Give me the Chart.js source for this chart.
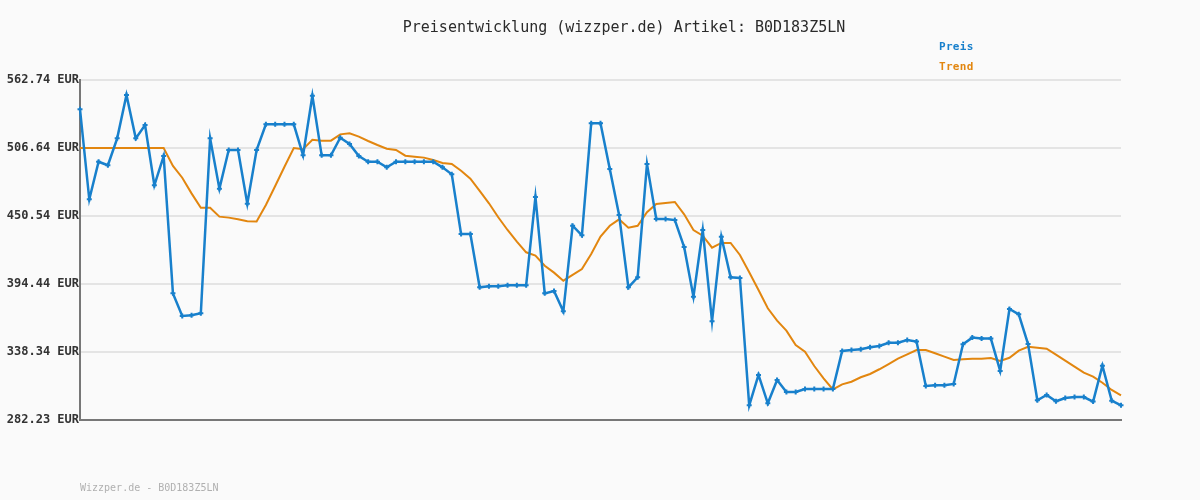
<script src="https://cdn.jsdelivr.net/npm/chart.js"></script>

<style>
  body { margin: 0; background: #fafafa; }
</style>

<div style="height:500px;width:1200px;">
  <canvas id="myChart" width="1200" height="500"></canvas>
</div>

<script>
const preis = [
  538.6, 464.3, 495.3, 492.4, 514.6, 550.4, 514.6, 525.6, 475.9, 500.0,
  386.7, 368.0, 368.6, 370.3, 514.6, 473.1, 505.0, 505.0, 460.7, 505.0,
  526.2, 526.2, 526.2, 526.2, 500.6, 549.8, 500.6, 500.6, 515.1, 509.9,
  500.0, 495.3, 495.3, 490.7, 495.3, 495.3, 495.3, 495.3, 495.3, 490.7,
  484.9, 435.7, 435.7, 391.7, 392.5, 392.5, 393.3, 393.3, 393.3, 466.2,
  386.7, 388.7, 371.9, 442.5, 434.6, 527.0, 527.0, 489.3, 451.4, 391.7,
  400.0, 493.4, 448.0, 448.0, 447.2, 424.9, 384.0, 439.0, 363.6, 433.5,
  400.0, 399.4, 294.3, 319.4, 296.0, 315.2, 305.3, 305.3, 307.8, 307.8,
  307.8, 307.8, 339.2, 340.0, 340.6, 342.2, 343.3, 346.0, 346.0, 348.2,
  346.9, 310.3, 310.9, 310.9, 312.0, 344.7, 350.2, 349.4, 349.4, 322.7,
  373.8, 369.4, 344.9, 298.5, 302.9, 297.7, 300.4, 301.2, 301.2, 297.4,
  327.0, 298.2, 294.3
];

const trend = [
  506.64, 506.64, 506.64, 506.64, 506.64, 506.64, 506.64, 506.64, 506.64, 506.64,
  491.8, 482.1, 469.2, 457.4, 457.4, 450.0, 449.2, 447.8, 446.2, 446.0,
  459.6, 475.3, 491.2, 506.6, 505.6, 513.5, 512.7, 512.7, 517.9, 518.7,
  516.0, 512.4, 509.1, 506.1, 505.0, 500.3, 499.5, 498.7, 496.7, 494.3,
  493.4, 487.9, 481.3, 471.2, 461.0, 449.5, 439.0, 429.4, 420.6, 417.8,
  409.5, 403.8, 397.2, 401.9, 406.8, 419.2, 433.5, 442.5, 447.8, 440.9,
  442.5, 453.6, 460.4, 461.3, 462.1, 451.9, 439.0, 434.3, 424.4, 428.3,
  428.3, 418.4, 404.1, 389.5, 374.4, 364.2, 356.0, 344.1, 338.6, 326.8,
  316.6, 307.5, 311.6, 313.8, 317.5, 320.2, 324.1, 328.4, 332.8, 336.4,
  340.0, 340.0, 337.3, 334.5, 331.7, 332.3, 332.8, 332.8, 333.4, 330.9,
  333.6, 339.5, 342.7, 341.9, 341.1, 336.1, 331.2, 326.2, 321.3, 318.0,
  313.0, 307.0, 302.6
];

const labels = preis.map((v, i) => String(i + 1));
const yTicks = [282.23, 338.34, 394.44, 450.54, 506.64, 562.74];

const titleText = 'Preisentwicklung (wizzper.de) Artikel: B0D183Z5LN';
const footerText = 'Wizzper.de - B0D183Z5LN';

// title, legend and footer drawn by hand
const textPlugin = {
  id: 'texts',
  afterDraw(chart) {
    const ctx = chart.ctx;
    ctx.save();
    ctx.textBaseline = 'middle';

    ctx.font = '15px "DejaVu Sans Mono"';
    ctx.fillStyle = '#2a2a2a';
    ctx.textAlign = 'center';
    ctx.fillText(titleText, 624, 28);

    ctx.font = 'bold 11px "DejaVu Sans Mono"';
    ctx.letterSpacing = '0.3px';
    ctx.textAlign = 'left';
    chart.data.datasets.forEach(function (ds, i) {
      ctx.fillStyle = ds.borderColor;
      ctx.fillText(ds.label, 939, 47 + i * 20);
    });

    ctx.font = '10px "DejaVu Sans Mono"';
    ctx.letterSpacing = '0px';
    ctx.fillStyle = '#b0b0b0';
    ctx.fillText(footerText, 80, 488);
    ctx.restore();
  }
};

const data = {
  labels: labels,
  datasets: [{
    label: 'Preis',
    data: preis,
    borderColor: '#1880cc',
    backgroundColor: '#1880cc',
    borderWidth: 2.5,
    pointStyle: 'cross',
    pointRadius: 2.5,
    pointBorderWidth: 2,
    tension: 0
  }, {
    label: 'Trend',
    data: trend,
    borderColor: '#e2860f',
    backgroundColor: '#e2860f',
    borderWidth: 2,
    pointRadius: 0,
    tension: 0
  }]
};

const config = {
  type: 'line',
  data: data,
  options: {
    responsive: false,
    animation: false,
    layout: { padding: { top: 80, right: 79, bottom: 80, left: 0 } },
    plugins: {
      legend: { display: false },
      tooltip: { enabled: false }
    },
    scales: {
      x: {
        grid: { display: false },
        ticks: { display: false },
        border: { color: '#777', width: 2 },
        afterFit(scale) { scale.height = 0; }
      },
      y: {
        min: 282.23,
        max: 562.74,
        afterBuildTicks(scale) { scale.ticks = yTicks.map(v => ({ value: v })); },
        afterFit(scale) { scale.width = 80; },
        grid: { color: '#e4e4e4', lineWidth: 2, drawTicks: false },
        border: { color: '#777', width: 2 },
        ticks: {
          padding: 1,
          color: '#333',
          font: { family: 'DejaVu Sans Mono', size: 12, weight: 'bold' },
          callback: v => v.toFixed(2) + ' EUR'
        }
      }
    }
  },
  plugins: [textPlugin]
};

var myChart = new Chart(document.getElementById('myChart'), config);
</script>
